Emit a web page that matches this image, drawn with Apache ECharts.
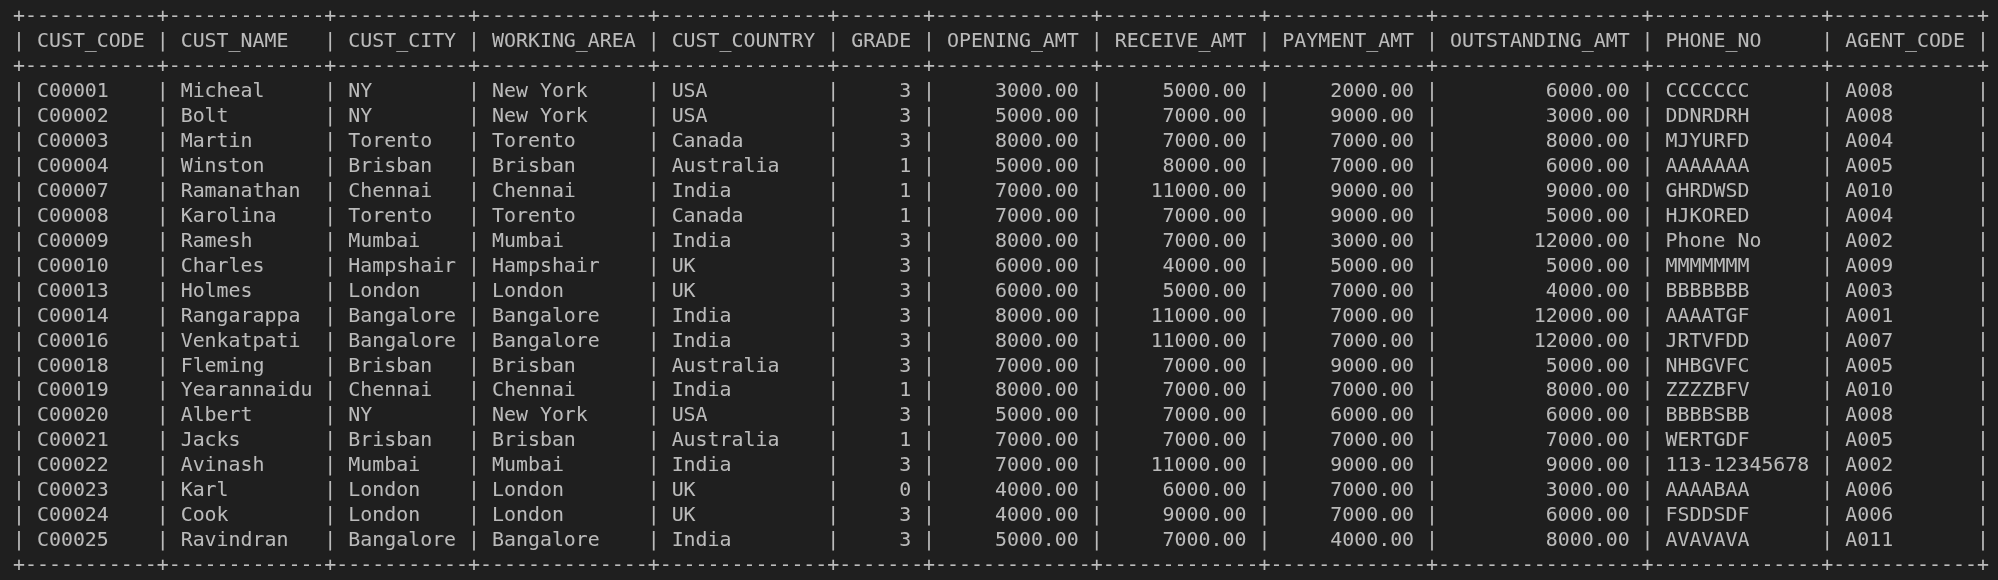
<!DOCTYPE html>
<html><head><meta charset="utf-8">
<script src="https://cdn.jsdelivr.net/npm/echarts@6/dist/echarts.min.js"></script>
<style>html,body{margin:0;padding:0;background:#1f1f1f}#c{width:1998px;height:580px}</style>
</head><body><div id="c"></div>
<script>
const headers=["CUST_CODE","CUST_NAME","CUST_CITY","WORKING_AREA","CUST_COUNTRY","GRADE","OPENING_AMT","RECEIVE_AMT","PAYMENT_AMT","OUTSTANDING_AMT","PHONE_NO","AGENT_CODE"];
const rightAligned=[false,false,false,false,false,true,true,true,true,true,false,false];
const custCode=["C00001","C00002","C00003","C00004","C00007","C00008","C00009","C00010","C00013","C00014","C00016","C00018","C00019","C00020","C00021","C00022","C00023","C00024","C00025"];
const custName=["Micheal","Bolt","Martin","Winston","Ramanathan","Karolina","Ramesh","Charles","Holmes","Rangarappa","Venkatpati","Fleming","Yearannaidu","Albert","Jacks","Avinash","Karl","Cook","Ravindran"];
const custCity=["NY","NY","Torento","Brisban","Chennai","Torento","Mumbai","Hampshair","London","Bangalore","Bangalore","Brisban","Chennai","NY","Brisban","Mumbai","London","London","Bangalore"];
const workingArea=["New York","New York","Torento","Brisban","Chennai","Torento","Mumbai","Hampshair","London","Bangalore","Bangalore","Brisban","Chennai","New York","Brisban","Mumbai","London","London","Bangalore"];
const custCountry=["USA","USA","Canada","Australia","India","Canada","India","UK","UK","India","India","Australia","India","USA","Australia","India","UK","UK","India"];
const grade=[3,3,3,1,1,1,3,3,3,3,3,3,1,3,1,3,0,3,3];
const openingAmt=[3000,5000,8000,5000,7000,7000,8000,6000,6000,8000,8000,7000,8000,5000,7000,7000,4000,4000,5000];
const receiveAmt=[5000,7000,7000,8000,11000,7000,7000,4000,5000,11000,11000,7000,7000,7000,7000,11000,6000,9000,7000];
const paymentAmt=[2000,9000,7000,7000,9000,9000,3000,5000,7000,7000,7000,9000,7000,6000,7000,9000,7000,7000,4000];
const outstandingAmt=[6000,3000,8000,6000,9000,5000,12000,5000,4000,12000,12000,5000,8000,6000,7000,9000,3000,6000,8000];
const phoneNo=["CCCCCCC","DDNRDRH","MJYURFD","AAAAAAA","GHRDWSD","HJKORED","Phone No","MMMMMMM","BBBBBBB","AAAATGF","JRTVFDD","NHBGVFC","ZZZZBFV","BBBBSBB","WERTGDF","113-12345678","AAAABAA","FSDDSDF","AVAVAVA"];
const agentCode=["A008","A008","A004","A005","A010","A004","A002","A009","A003","A001","A007","A005","A010","A008","A005","A002","A006","A006","A011"];

const f=v=>v.toFixed(2);
const cols=[custCode,custName,custCity,workingArea,custCountry,grade.map(String),openingAmt.map(f),receiveAmt.map(f),paymentAmt.map(f),outstandingAmt.map(f),phoneNo,agentCode];
const widths=headers.map((h,j)=>Math.max(h.length,...cols[j].map(s=>s.length)));
const border='+'+widths.map(w=>'-'.repeat(w+2)).join('+')+'+';
const fmt=(cells,align)=>'|'+cells.map((c,j)=>' '+(align&&rightAligned[j]?c.padStart(widths[j]):c.padEnd(widths[j]))+' ').join('|')+'|';
const lines=[border,fmt(headers,false),border];
for(let i=0;i<custCode.length;i++)lines.push(fmt(cols.map(c=>c[i]),true));
lines.push(border);
const total=border.length;
const data=lines.map((t,i)=>({value:[0,i],label:{formatter:()=>t}}));
const chart=echarts.init(document.getElementById('c'));
chart.setOption({
 backgroundColor:'#1f1f1f',animation:false,
 grid:{left:13,width:1972,top:17,height:549},
 xAxis:{type:'value',min:0,max:total,show:false},
 yAxis:{type:'value',min:0,max:lines.length-1,inverse:true,show:false},
 series:[{type:'scatter',symbolSize:0,data,
  label:{show:true,position:'right',distance:0,color:'#e2e2e2',fontFamily:'DejaVu Sans Mono',fontSize:19.9,align:'left',verticalAlign:'middle'}}]
});
</script></body></html>
